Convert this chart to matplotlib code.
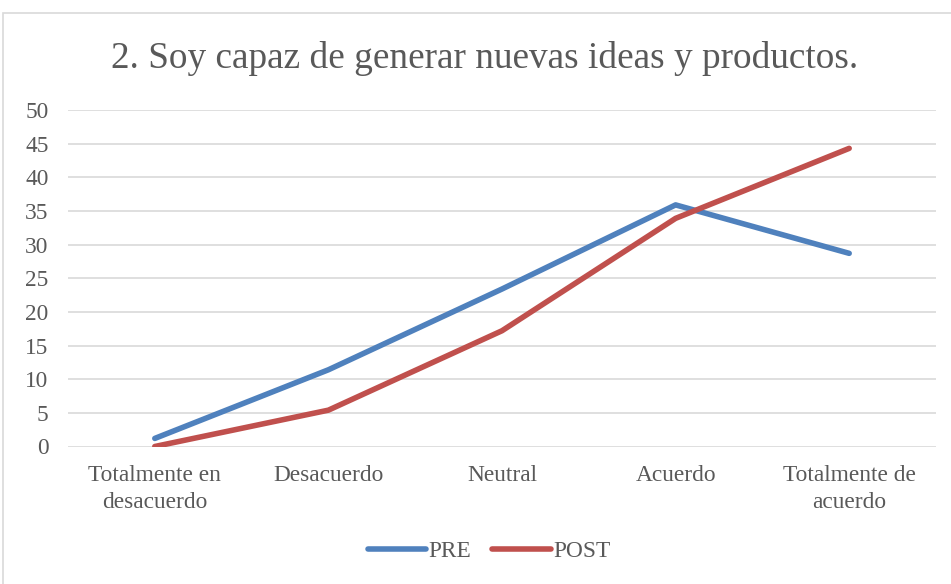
import matplotlib
matplotlib.use("Agg")
import matplotlib.pyplot as plt
from matplotlib.patches import Rectangle

categories = ["Totalmente en\ndesacuerdo", "Desacuerdo", "Neutral", "Acuerdo", "Totalmente de\nacuerdo"]
pre = [1.2, 11.4, 23.4, 35.9, 28.7]
post = [0.0, 5.4, 17.2, 33.9, 44.3]
yticks = [0, 5, 10, 15, 20, 25, 30, 35, 40, 45, 50]
title = "2. Soy capaz de generar nuevas ideas y productos."

plt.rcParams['font.family'] = ['Liberation Serif', 'DejaVu Serif']
txt = '#595959'
fs = 16.8

W, H = 951, 584
fig = plt.figure(figsize=(W/100, H/100), dpi=100)
fig.patches.append(Rectangle((3/W, 0 - 0.01), 1.0, (H - 13)/H + 0.01, transform=fig.transFigure,
                             fill=False, edgecolor='#D9D9D9', linewidth=1.2))

ax = fig.add_axes([68/W, 1 - 446.5/H, (936-68)/W, (446.5-110)/H])
x = list(range(len(categories)))
ax.plot(x, pre, color='#4F81BD', lw=4.0, solid_capstyle='round', solid_joinstyle='round', label='PRE')
ax.plot(x, post, color='#C0504D', lw=4.0, solid_capstyle='round', solid_joinstyle='round', label='POST')
ax.set_xlim(-0.5, len(categories) - 0.5)
ax.set_ylim(0, 50)
ax.set_yticks(yticks)
ax.set_yticklabels([str(v) for v in yticks], fontsize=fs, color=txt)
ax.set_xticks(x)
ax.set_xticklabels(categories, fontsize=fs, color=txt, linespacing=1.4)
ax.tick_params(axis='x', length=0, pad=13)
ax.tick_params(axis='y', length=0, pad=14)
ax.grid(axis='y', color='#D9D9D9', lw=1.2)
ax.set_axisbelow(True)
for s in ax.spines.values():
    s.set_visible(False)

fig.text(485/W, 1 - 59/H, title, ha='center', va='center', fontsize=26.8, color=txt)

leg = fig.legend(loc='center', bbox_to_anchor=(489/W, 1 - 551/H), ncol=2, frameon=False,
                 fontsize=fs, handlelength=2.5, handletextpad=0.1, columnspacing=0.9)
for t in leg.get_texts():
    t.set_color(txt)

fig.savefig('out.png', dpi=100)
